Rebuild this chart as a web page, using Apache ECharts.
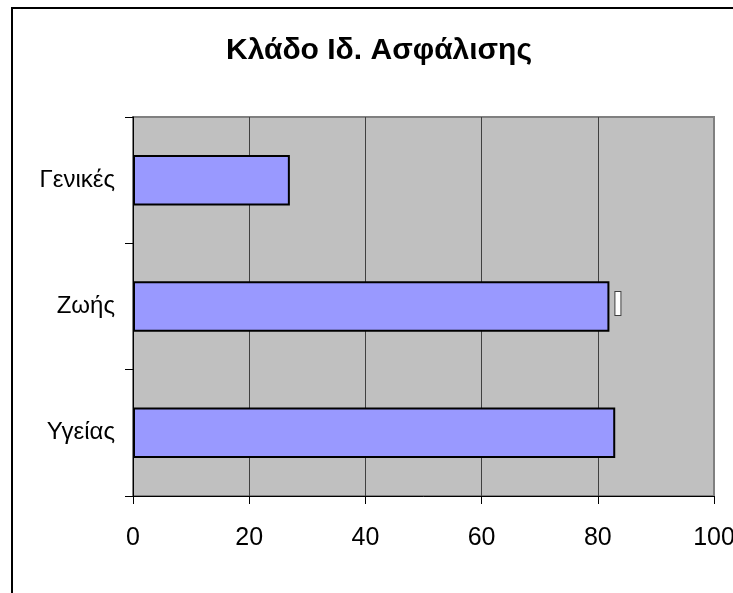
<!DOCTYPE html>
<html>
<head>
<meta charset="utf-8">
<script src="https://cdn.jsdelivr.net/npm/echarts@6/dist/echarts.min.js"></script>
<style>
  html, body { margin: 0; padding: 0; background: #fff; }
  #chart { width: 733px; height: 593px; }
</style>
</head>
<body>
<div id="chart"></div>
<script>
// Insurance branch shares (category axis runs bottom to top)
const categories = ['Υγείας', 'Ζωής', 'Γενικές'];
const values = [83, 82, 27];
const xTickValues = [0, 20, 40, 60, 80, 100];
const titleText = 'Κλάδο Ιδ. Ασφάλισης';

const FONT = '"Liberation Sans", Arial, sans-serif';

const chart = echarts.init(document.getElementById('chart'), null, { renderer: 'canvas' });

chart.setOption({
  backgroundColor: '#ffffff',
  animation: false,
  title: {
    text: titleText,
    left: 226,
    top: 36,
    padding: 0,
    textStyle: { fontFamily: FONT, fontSize: 30, fontWeight: 'bold', color: '#000' }
  },
  graphic: [{
    type: 'rect',
    shape: { x: 12, y: 8, width: 800, height: 700 },
    style: { fill: 'none', stroke: '#000', lineWidth: 2 },
    silent: true,
    z: 100
  }],
  grid: {
    left: 133, top: 117, right: 19, bottom: 97,
    outerBoundsMode: 'none',
    containLabel: false,
    show: true,
    backgroundColor: '#C0C0C0',
    borderColor: '#808080',
    borderWidth: 2
  },
  xAxis: {
    type: 'value',
    min: xTickValues[0],
    max: xTickValues[xTickValues.length - 1],
    interval: xTickValues[1] - xTickValues[0],
    axisLine: { show: true, lineStyle: { color: '#000', width: 1 } },
    axisTick: { show: true, length: 8, lineStyle: { color: '#000' } },
    axisLabel: { fontFamily: FONT, fontSize: 25, color: '#000', margin: 30, showMaxLabel: true, hideOverlap: false },
    splitLine: { show: true, showMinLine: false, showMaxLine: false, lineStyle: { color: '#404040', width: 1 } }
  },
  yAxis: {
    type: 'category',
    data: categories,
    axisLine: { show: true, lineStyle: { color: '#000', width: 1 } },
    axisTick: { show: true, length: 8, lineStyle: { color: '#000' } },
    axisLabel: { fontFamily: FONT, fontSize: 24, color: '#000', margin: 18, padding: [4, 0, 0, 0] },
    splitLine: { show: false }
  },
  series: [{
    type: 'bar',
    data: values.map((v, i) => i === 1 ? {
      value: v,
      label: {
        show: true,
        position: 'right',
        distance: 6,
        formatter: ' ',
        width: 5,
        height: 23,
        padding: 0,
        backgroundColor: '#ffffff',
        borderColor: '#404040',
        borderWidth: 1,
        offset: [0, -3]
      }
    } : v),
    barWidth: '40%',
    itemStyle: { color: '#9999FF', borderColor: '#000', borderWidth: 2 }
  }]
});
</script>
</body>
</html>
